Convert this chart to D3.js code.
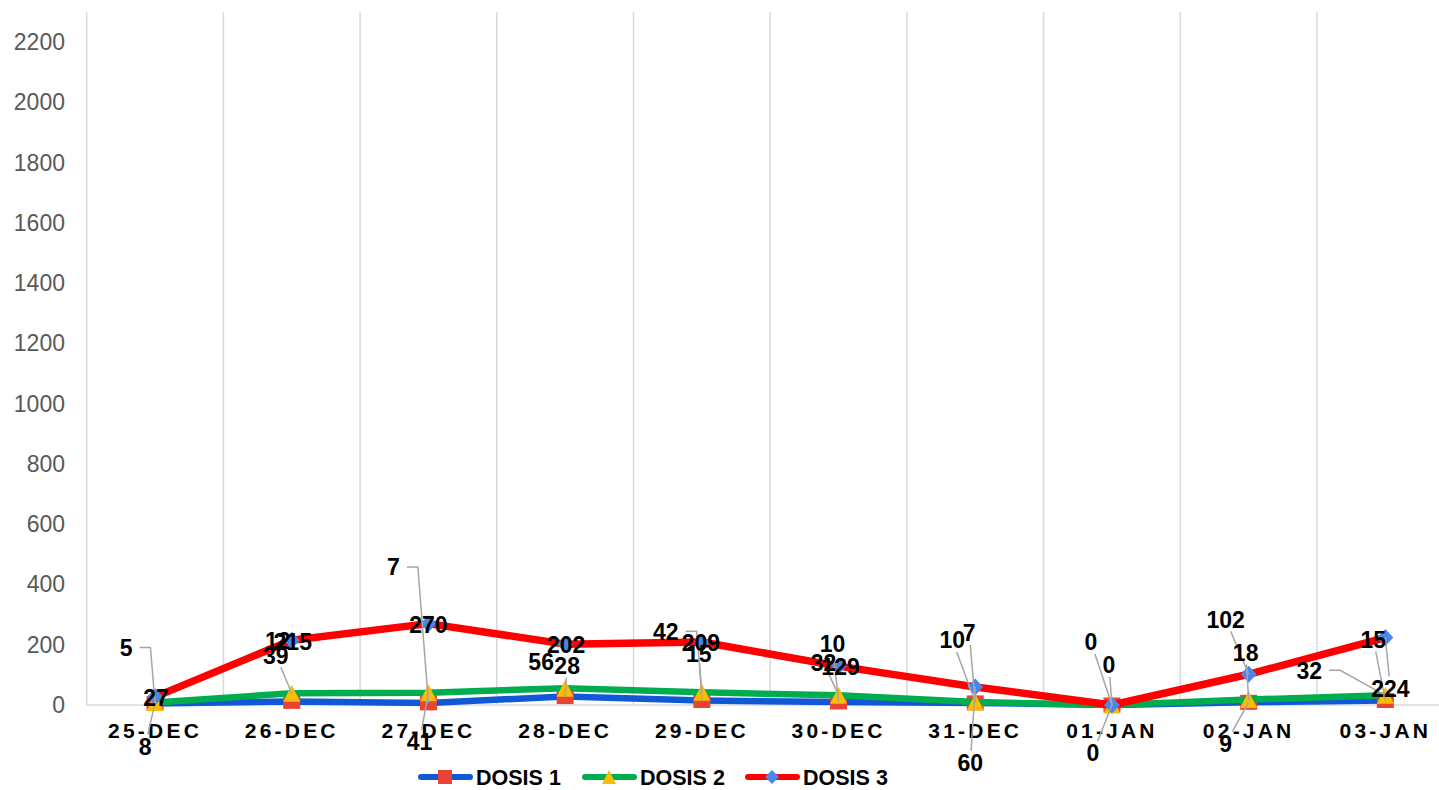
<!DOCTYPE html>
<html>
<head>
<meta charset="utf-8">
<script src="https://cdn.jsdelivr.net/npm/d3@7"></script>
<style>
  html, body { margin: 0; padding: 0; background: #fff; }
  svg { display: block; font-family: "Liberation Sans", Arial, sans-serif; }
</style>
</head>
<body>
<svg id="chart" width="1439" height="790"></svg>
<script>
// --- data ---
const days = ['25-DEC', '26-DEC', '27-DEC', '28-DEC', '29-DEC', '30-DEC', '31-DEC', '01-JAN', '02-JAN', '03-JAN'];
const dosis1 = [5, 12, 7, 28, 15, 10, 7, 0, 9, 15];
const dosis2 = [8, 39, 41, 56, 42, 32, 10, 0, 18, 32];
const dosis3 = [27, 215, 270, 202, 209, 129, 60, 0, 102, 224];
const yTicks = [0, 200, 400, 600, 800, 1000, 1200, 1400, 1600, 1800, 2000, 2200];

// label placement per point: [dx, dy, leader]  (0 none, 1 straight, 2 elbow)
const labels1 = [[-29, -56, 2], [-14, -61, 0], [-35, -136, 2], [2, -31, 1], [-3, -47, 1], [-6, -58, 1], [-6, -70, 1], [-21, -63, 1], [-23, 41, 1], [-12, -61, 1]];
const labels2 = [[-10, 44, 1], [-16, -38, 1], [-9, 49, 1], [-24, -26, 0], [-36, -61, 2], [-15, -33, 1], [-23, -62, 1], [-3, -40, 1], [-3, -47, 1], [-76, -25, 2]];
const labels3 = [[1, 1, 0], [1, 2, 0], [0, 1, 0], [1, 1, 0], [-1, 1, 0], [2, 1, 0], [-5, 76, 1], [-19, 48, 1], [-23, -55, 1], [5, 51, 1]];

const series = [
    { name: 'DOSIS 1', values: dosis1, labels: labels1, line: '#1158d6', fill: '#ea4335', marker: 'square', width: 6.5 },
    { name: 'DOSIS 2', values: dosis2, labels: labels2, line: '#00ad4e', fill: '#fbbc04', marker: 'triangle', width: 6.5 },
    { name: 'DOSIS 3', values: dosis3, labels: labels3, line: '#ff0000', fill: '#4a86e8', marker: 'diamond', width: 7.5 }
];

const svg = d3.select('#chart');
const plotLeft = 86.7, plotTop = 12, plotBottom = 705;
const bandW = 136.7;

const x = d3.scaleBand().domain(days).range([plotLeft, plotLeft + bandW * days.length]).padding(0);
const y = d3.scaleLinear().domain([0, 2300]).range([plotBottom, plotTop]);
const cx = d => x(d) + x.bandwidth() / 2;

// vertical category gridlines
const grid = svg.append('g').attr('class', 'grid');
grid.selectAll('line.v')
    .data(d3.range(days.length + 1))
    .enter()
    .append('line')
    .attr('x1', i => plotLeft + i * x.bandwidth())
    .attr('x2', i => plotLeft + i * x.bandwidth())
    .attr('y1', plotTop)
    .attr('y2', plotBottom)
    .attr('stroke', '#d9d9d9')
    .attr('stroke-width', 1.5);
grid.append('line')
    .attr('x1', plotLeft).attr('x2', 1439)
    .attr('y1', y(0)).attr('y2', y(0))
    .attr('stroke', '#d9d9d9')
    .attr('stroke-width', 1.5);

// y axis labels
const yAxis = svg.append('g')
    .attr('transform', `translate(65,0)`)
    .call(d3.axisLeft(y).tickValues(yTicks).tickFormat(d3.format('d')).tickSize(0).tickPadding(0));
yAxis.select('.domain').remove();
yAxis.selectAll('text')
    .attr('font-size', 23)
    .attr('fill', '#595959')
    .attr('font-family', '"Liberation Sans", Arial, sans-serif');

// x axis labels
const xAxis = svg.append('g')
    .attr('transform', `translate(0,${plotBottom})`)
    .call(d3.axisBottom(x).tickSize(0).tickPadding(0));
xAxis.select('.domain').remove();
xAxis.selectAll('text')
    .attr('dy', 0)
    .attr('y', 32.5)
    .attr('dx', 0)
    .attr('font-size', 21)
    .attr('font-weight', 'bold')
    .attr('letter-spacing', '3.2px')
    .attr('fill', '#000')
    .attr('font-family', '"Liberation Sans", Arial, sans-serif');

function markerPath(type, w, h) {
    if (type === 'square') return `M${-w / 2},${-h / 2}h${w}v${h}h${-w}Z`;
    if (type === 'triangle') return `M0,${-h / 2}L${w / 2},${h / 2}L${-w / 2},${h / 2}Z`;
    return `M0,${-h / 2}L${w / 2},0L0,${h / 2}L${-w / 2},0Z`;
}
const markerSize = { square: [17, 15], triangle: [17, 17], diamond: [16, 17] };

const lineGen = d3.line()
    .x((d, i) => cx(days[i]))
    .y(d => y(d));

series.forEach(s => {
    const g = svg.append('g').attr('class', 'series');
    g.append('path')
        .datum(s.values)
        .attr('d', lineGen)
        .attr('fill', 'none')
        .attr('stroke', s.line)
        .attr('stroke-width', s.width)
        .attr('stroke-linejoin', 'round')
        .attr('stroke-linecap', 'round');
    const [mw, mh] = markerSize[s.marker];
    g.selectAll('path.mk')
        .data(s.values)
        .enter()
        .append('path')
        .attr('class', 'mk')
        .attr('d', markerPath(s.marker, mw, mh))
        .attr('transform', (d, i) => `translate(${cx(days[i])},${y(d)})`)
        .attr('fill', s.fill);
});

// data labels with leader lines
const labelLayer = svg.append('g').attr('class', 'labels');
const leaderLayer = labelLayer.append('g');
series.forEach(s => {
    s.values.forEach((v, i) => {
        const px = cx(days[i]), py = y(v);
        const [dx, dy, leader] = s.labels[i];
        const lx = px + dx, ly = py + dy;
        const t = labelLayer.append('text')
            .attr('x', lx)
            .attr('y', ly)
            .attr('dy', '0.36em')
            .attr('text-anchor', 'middle')
            .attr('font-size', 23)
            .attr('font-weight', 'bold')
            .attr('fill', '#000')
            .text(v);
        if (!leader) return;
        const w = t.node().getComputedTextLength() / 2 + 4;
        const h = 12;
        let pts;
        if (leader === 2) {
            const sx = lx + w + 3;
            pts = [[sx, ly], [sx + 11, ly], [px, py]];
        } else {
            // start where the line to the point leaves the label box
            const ux = px - lx, uy = py - ly;
            const k = Math.min(Math.abs(ux) > 0 ? w / Math.abs(ux) : Infinity, Math.abs(uy) > 0 ? h / Math.abs(uy) : Infinity);
            pts = [[lx + ux * k, ly + uy * k], [px, py]];
        }
        leaderLayer.append('path')
            .attr('d', d3.line()(pts))
            .attr('fill', 'none')
            .attr('stroke', '#a6a6a6')
            .attr('stroke-width', 1.5);
    });
});

// legend
const legend = svg.append('g').attr('class', 'legend');
const legendX = [418, 582, 745];
series.forEach((s, i) => {
    const g = legend.append('g').attr('transform', `translate(${legendX[i]},777)`);
    g.append('line')
        .attr('x1', 3).attr('x2', 52)
        .attr('stroke', s.line)
        .attr('stroke-width', 6)
        .attr('stroke-linecap', 'round');
    g.append('path')
        .attr('d', markerPath(s.marker, 14, 14))
        .attr('transform', 'translate(27,0)')
        .attr('fill', s.fill);
    g.append('text')
        .attr('x', 58)
        .attr('dy', '0.36em')
        .attr('font-size', 21.5)
        .attr('font-weight', 'bold')
        .attr('fill', '#000')
        .text(s.name);
});
</script>
</body>
</html>
